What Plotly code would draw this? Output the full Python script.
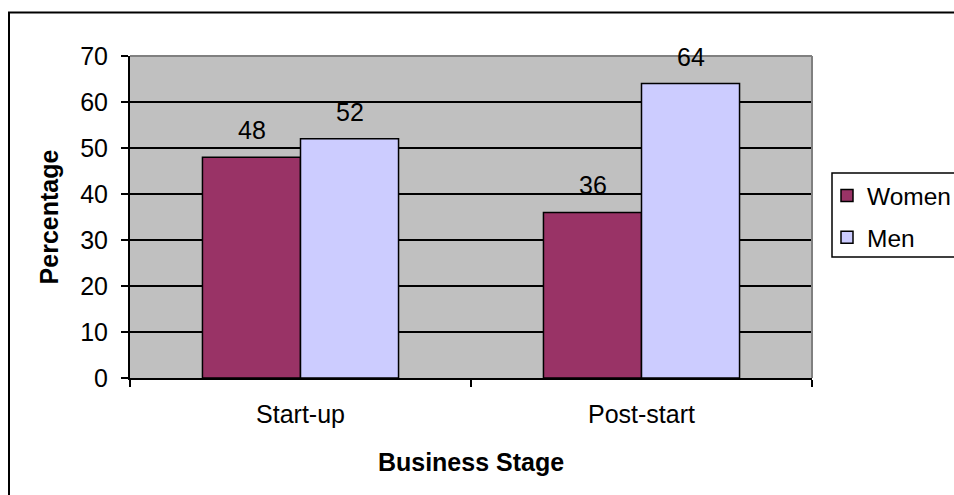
import plotly.graph_objects as go

categories = ["Start-up", "Post-start"]
women = [48, 36]
men = [52, 64]
series_names = ["Women", "Men"]
y_ticks = [0, 10, 20, 30, 40, 50, 60, 70]

FONT = "Liberation Sans, Arial, sans-serif"
FS = 25
W, H = 954, 495
L, R, T, B = 130, 142, 56, 117
pw = W - L - R
ph = H - T - B


def px_x(px):
    return (px - L) / pw


def px_y(py):
    return (H - B - py) / ph


fig = go.Figure()
fig.add_trace(go.Bar(
    x=categories, y=women, name=series_names[0], legendgroup="w",
    marker=dict(color="#993366", line=dict(color="black", width=1.5)),
))
fig.add_trace(go.Bar(
    x=categories, y=men, name=series_names[1], legendgroup="m",
    marker=dict(color="#CCCCFF", line=dict(color="black", width=1.5)),
))

annotations = []
for vals, shift in ((women, -49), (men, 49)):
    for c, v in zip(categories, vals):
        annotations.append(dict(
            x=c, y=v, xref="x", yref="y", text=str(v), showarrow=False,
            xshift=shift, yanchor="bottom", yshift=11,
            font=dict(family=FONT, size=FS, color="black"),
        ))

shapes = [
    # outer chart border
    dict(type="rect", xref="paper", yref="paper",
         x0=px_x(9), x1=px_x(1000), y0=px_y(12.5), y1=px_y(540),
         line=dict(color="black", width=2), layer="above"),
    # plot area top / right gray border
    dict(type="line", xref="paper", yref="paper", x0=0, x1=1, y0=1, y1=1,
         line=dict(color="#808080", width=2), layer="above"),
    dict(type="line", xref="paper", yref="paper", x0=1, x1=1, y0=0, y1=1,
         line=dict(color="#808080", width=2), layer="above"),
    # legend box
    dict(type="rect", xref="paper", yref="paper",
         x0=px_x(832), x1=px_x(1000), y0=px_y(173), y1=px_y(257),
         line=dict(color="black", width=1.5), layer="above"),
]

fig.update_layout(
    width=W, height=H,
    margin=dict(l=L, r=R, t=T, b=B, autoexpand=False),
    paper_bgcolor="white", plot_bgcolor="#C0C0C0",
    font=dict(family=FONT, size=FS, color="black"),
    barmode="group", bargap=0.425, bargroupgap=0,
    showlegend=True,
    legend=dict(
        x=px_x(827), y=px_y(173), xanchor="left", yanchor="top",
        bgcolor="rgba(0,0,0,0)", borderwidth=0,
        font=dict(family=FONT, size=24.5, color="black"),
        tracegroupgap=7, traceorder="grouped",
    ),
    xaxis=dict(
        type="category", showline=True, linecolor="black", linewidth=2,
        ticks="outside", tickson="boundaries", ticklen=7, tickwidth=2,
        tickcolor="black", showgrid=False,
        title=dict(text="<b>Business Stage</b>", standoff=26,
                   font=dict(family=FONT, size=FS)),
        tickfont=dict(family=FONT, size=FS),
        ticklabelstandoff=13,
    ),
    yaxis=dict(
        range=[0, 70], tickvals=y_ticks, showline=True, linecolor="black",
        linewidth=2, ticks="outside", ticklen=7, tickwidth=2,
        tickcolor="black", showgrid=True, gridcolor="black", gridwidth=1.5,
        zeroline=False,
        title=dict(text="<b>Percentage</b>", standoff=14,
                   font=dict(family=FONT, size=FS)),
        tickfont=dict(family=FONT, size=FS),
        ticklabelstandoff=8,
    ),
    annotations=annotations,
    shapes=shapes,
)

fig.write_html("out.html", config={"displayModeBar": False},
               post_script="document.body.style.margin='0';")
